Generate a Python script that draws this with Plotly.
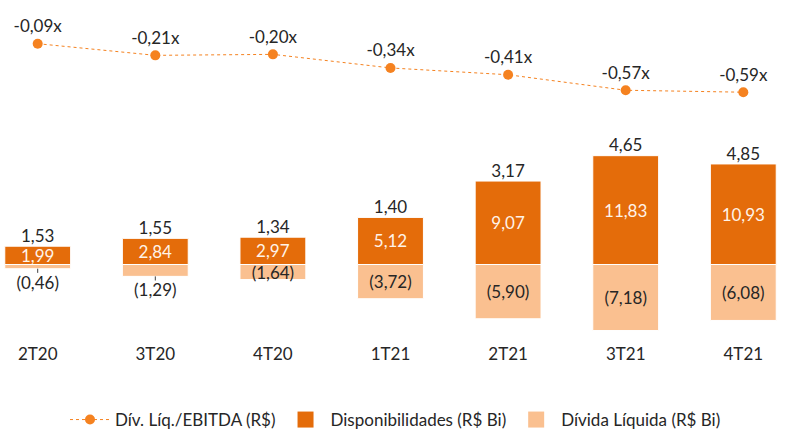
import plotly.graph_objects as go

categories = ["2T20", "3T20", "4T20", "1T21", "2T21", "3T21", "4T21"]
disponibilidades = [1.99, 2.84, 2.97, 5.12, 9.07, 11.83, 10.93]
divida_liquida = [-0.46, -1.29, -1.64, -3.72, -5.90, -7.18, -6.08]
divida_bruta = [1.53, 1.55, 1.34, 1.40, 3.17, 4.65, 4.85]
div_ebitda = [-0.09, -0.21, -0.20, -0.34, -0.41, -0.57, -0.59]

def br(v, dec=2):
    return f"{v:.{dec}f}".replace(".", ",")

x = list(range(len(categories)))
FONT = "Lato"
FS = 17
DARK = "#E46C0A"
LIGHT = "#FAC090"
LINE = "#F58220"
TXT = "#262626"

W, H = 791, 429
mt, mb = 0, 87
ph = H - mt - mb
zero_px = 264.5
scale = 9.2
bar_range = [-(ph - zero_px) / scale, zero_px / scale]
line_scale = 97.0
line_ref_px = 43.7
line_range = [-0.09 - (ph - line_ref_px) / line_scale, -0.09 + line_ref_px / line_scale]

cat_px0, cat_step = 37.7, 117.6
x_range = [-cat_px0 / cat_step, (W - cat_px0) / cat_step]

neg_inside = [abs(v) >= 1.5 for v in divida_liquida]

fig = go.Figure()
fig.add_trace(go.Bar(
    x=x, y=disponibilidades, name="Disponibilidades (R$ Bi)",
    marker=dict(color=DARK, line=dict(color="white", width=1)),
    width=0.56,
    text=[br(v) for v in disponibilidades], textposition="inside",
    insidetextanchor="middle", constraintext="none",
    textfont=dict(color="#FFF3E8", size=FS, family=FONT),
    cliponaxis=False, showlegend=False,
))
fig.add_trace(go.Bar(
    x=x, y=divida_liquida, name="Dívida Líquida (R$ Bi)",
    marker=dict(color=LIGHT, line=dict(color="white", width=1)),
    width=0.56,
    text=[f"({br(abs(v))})" for v in divida_liquida],
    textposition=["inside" if f else "outside" for f in neg_inside],
    insidetextanchor="middle", constraintext="none",
    textfont=dict(color=TXT, size=FS, family=FONT),
    error_y=dict(type="data", symmetric=False,
                 array=[0] * len(x),
                 arrayminus=[0 if f else 0.45 for f in neg_inside],
                 width=0, thickness=1, color="#404040"),
    cliponaxis=False, showlegend=False,
))
# gross debt labels above the bars
fig.add_trace(go.Scatter(
    x=x, y=disponibilidades, mode="text",
    text=[br(v) for v in divida_bruta], textposition="top center",
    textfont=dict(color=TXT, size=FS, family=FONT),
    showlegend=False, hoverinfo="skip", cliponaxis=False,
))
fig.add_trace(go.Scatter(
    x=x, y=div_ebitda, name="Dív. Líq./EBITDA (R$)", yaxis="y2",
    mode="lines+markers+text",
    line=dict(color=LINE, width=1, dash="dot"),
    marker=dict(color=LINE, size=10),
    text=[br(v) + "x" for v in div_ebitda], textposition="top center",
    textfont=dict(color=TXT, size=FS, family=FONT),
    cliponaxis=False, legendrank=1,
))
# legend entries with larger square swatches
fig.add_trace(go.Scatter(
    x=[None], y=[None], mode="markers", name="Disponibilidades (R$ Bi)",
    marker=dict(symbol="square", color=DARK, size=16), legendrank=2,
))
fig.add_trace(go.Scatter(
    x=[None], y=[None], mode="markers", name="Dívida Líquida (R$ Bi)",
    marker=dict(symbol="square", color=LIGHT, size=16), legendrank=3,
))

legend_center_px = 420
fig.update_layout(
    width=W, height=H,
    margin=dict(l=0, r=0, t=mt, b=mb, autoexpand=False),
    paper_bgcolor="white", plot_bgcolor="white",
    barmode="relative",
    font=dict(family=FONT, size=FS, color=TXT),
    xaxis=dict(range=x_range, tickmode="array", tickvals=x, ticktext=categories,
               showgrid=False, zeroline=False, showline=False, ticks="",
               tickfont=dict(size=FS, family=FONT, color=TXT)),
    yaxis=dict(range=bar_range, visible=False, showgrid=False, zeroline=True,
               zerolinecolor="#F2F2F2", zerolinewidth=1),
    yaxis2=dict(range=line_range, overlaying="y", visible=False, showgrid=False),
    legend=dict(orientation="h", x=0.5, xanchor="center",
                y=-(legend_center_px - ph) / ph, yanchor="middle",
                itemsizing="trace", traceorder="normal", itemwidth=40,
                font=dict(size=FS, family=FONT, color=TXT)),
    showlegend=True,
)

fig.write_html("out.html", config={"displayModeBar": False},
               post_script="document.body.style.margin='0';")
